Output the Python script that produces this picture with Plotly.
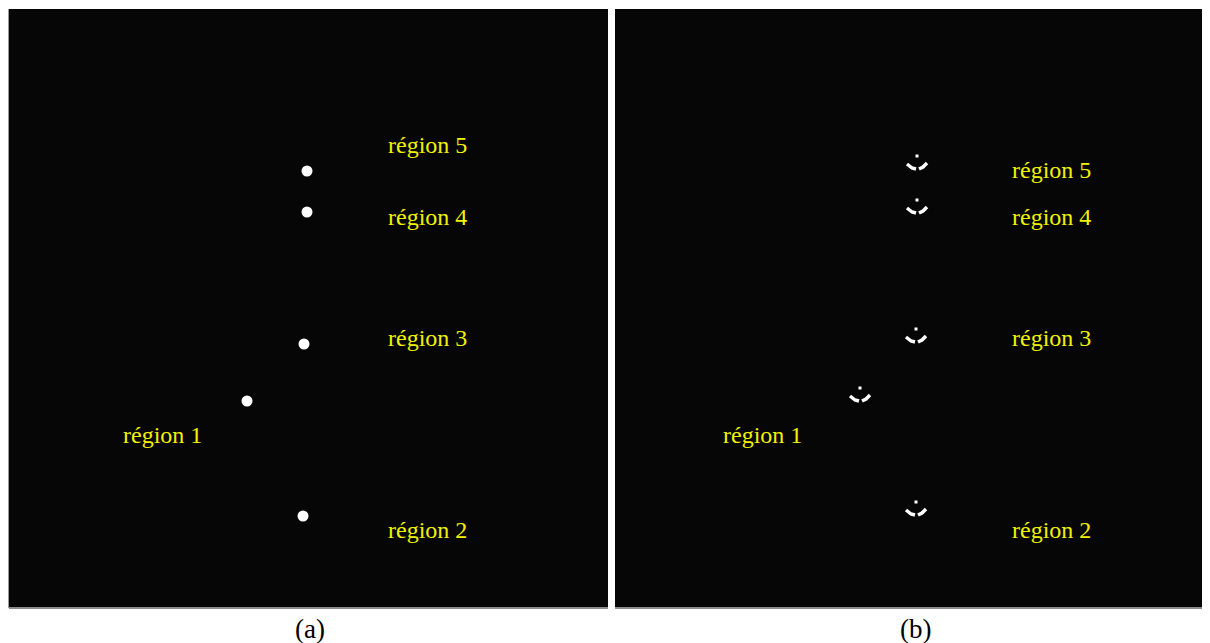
import plotly.graph_objects as go

# ---- data (pixel coordinates within each panel, origin top-left) ----
regions = ["région 1", "région 2", "région 3", "région 4", "région 5"]
blob_a_x = [238, 294, 295, 298, 298]
blob_a_y = [392, 507, 335, 203, 162]
blob_b_x = [245, 301, 301, 302, 302]
blob_b_y = [390, 504, 331, 202, 158]
label_a_x = [153, 418, 418, 418, 418]
label_a_y = [426, 521, 329, 208, 136]
label_b_x = [147, 436, 436, 436, 436]
label_b_y = [426, 521, 329, 208, 161]
panel_titles = ["(a)", "(b)"]

# page geometry (the browser body adds an 8 px margin)
IMG_W, IMG_H = 1210, 643
OFF = 8
W, H = IMG_W - OFF, IMG_H - OFF
ax_a = (9, 608)
ax_b = (615, 1202)
top, bottom = 9, 607

def px(x):
    return (x - OFF) / W

def py(y):
    return (IMG_H - y) / H

BG = "#060606"
YEL = "#f2f200"
FONT = "Liberation Serif, Times New Roman, serif"

fig = go.Figure()
ydom = [py(bottom), py(top)]
fig.update_layout(
    width=W, height=H, margin=dict(l=0, r=0, t=0, b=0, pad=0), autosize=False,
    paper_bgcolor="white", plot_bgcolor=BG, showlegend=False,
    xaxis=dict(domain=[px(ax_a[0]), px(ax_a[1])], range=[0, ax_a[1] - ax_a[0]],
               visible=False, fixedrange=True),
    yaxis=dict(domain=ydom, range=[bottom - top, 0], visible=False, fixedrange=True, anchor="x"),
    xaxis2=dict(domain=[px(ax_b[0]), min(1.0, px(ax_b[1]))], range=[0, ax_b[1] - ax_b[0]],
                visible=False, fixedrange=True, anchor="y2"),
    yaxis2=dict(domain=ydom, range=[bottom - top, 0], visible=False, fixedrange=True, anchor="x2"),
)

# panel (a) blobs
fig.add_trace(go.Scatter(x=blob_a_x, y=blob_a_y, mode="markers", xaxis="x", yaxis="y",
                         marker=dict(size=11, color="white", line=dict(width=0)),
                         hoverinfo="skip"))
# panel (b): each region drawn as a thin arc with a small dot above it
for cx, cy in zip(blob_b_x, blob_b_y):
    fig.add_trace(go.Scatter(x=[cx - 10, cx - 5, cx - 1], y=[cy - 3, cy + 1, cy + 2],
                             mode="lines", xaxis="x2", yaxis="y2",
                             line=dict(color="white", width=3.5), hoverinfo="skip"))
    fig.add_trace(go.Scatter(x=[cx + 2, cx + 6, cx + 10], y=[cy + 2, cy, cy - 4],
                             mode="lines", xaxis="x2", yaxis="y2",
                             line=dict(color="white", width=3.5), hoverinfo="skip"))
    fig.add_trace(go.Scatter(x=[cx], y=[cy - 11], mode="markers", xaxis="x2", yaxis="y2",
                             marker=dict(size=3, color="white", symbol="square"),
                             hoverinfo="skip"))

for name, x, y in zip(regions, label_a_x, label_a_y):
    fig.add_annotation(x=x, y=y, xref="x", yref="y", text=name, showarrow=False,
                       xanchor="center", yanchor="middle",
                       font=dict(family=FONT, size=24, color=YEL))
for name, x, y in zip(regions, label_b_x, label_b_y):
    fig.add_annotation(x=x, y=y, xref="x2", yref="y2", text=name, showarrow=False,
                       xanchor="center", yanchor="middle",
                       font=dict(family=FONT, size=24, color=YEL))

# panel captions
for t, cx in zip(panel_titles, [310, 915]):
    fig.add_annotation(x=px(cx), y=py(629), xref="paper", yref="paper", text=t,
                       showarrow=False, xanchor="center", yanchor="middle",
                       font=dict(family=FONT, size=27, color="black"))

# thin grey edges (bottom of both panels, left of panel a)
for x0, x1 in [ax_a, ax_b]:
    fig.add_shape(type="line", xref="paper", yref="paper",
                  x0=px(x0), x1=px(x1), y0=py(bottom + 1), y1=py(bottom + 1),
                  line=dict(color="#8a8a8a", width=2))
fig.add_shape(type="line", xref="paper", yref="paper",
              x0=px(ax_a[0] - 0.5), x1=px(ax_a[0] - 0.5), y0=py(bottom + 1), y1=py(top),
              line=dict(color="#9a9a9a", width=1))

fig.write_html("out.html")
